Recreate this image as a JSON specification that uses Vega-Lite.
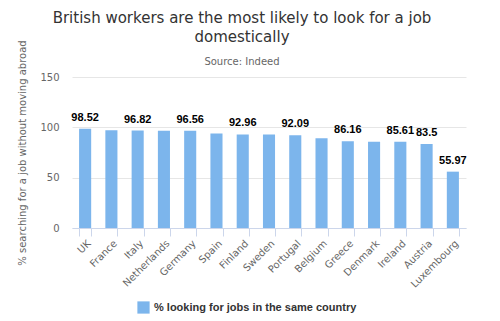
{
  "$schema": "https://vega.github.io/schema/vega-lite/v6.json",
  "autosize": "none",
  "width": 394,
  "height": 151,
  "padding": {"left": 72, "top": 77, "right": 34, "bottom": 93},
  "background": "white",
  "config": {
    "font": "DejaVu Sans",
    "view": {"stroke": null}
  },
  "title": {
    "text": ["British workers are the most likely to look for a job", "domestically"],
    "subtitle": "Source: Indeed",
    "anchor": "middle",
    "frame": "group",
    "dx": -27,
    "dy": 39,
    "fontSize": 15,
    "fontWeight": "normal",
    "color": "#333333",
    "lineHeight": 19,
    "subtitleFontSize": 10,
    "subtitleColor": "#666666",
    "subtitlePadding": 12,
    "offset": 12
  },
  "data": {
    "values": [
      {"country": "UK", "value": 98.52},
      {"country": "France", "value": 97.1},
      {"country": "Italy", "value": 96.82},
      {"country": "Netherlands", "value": 96.7},
      {"country": "Germany", "value": 96.56},
      {"country": "Spain", "value": 93.8},
      {"country": "Finland", "value": 92.96},
      {"country": "Sweden", "value": 92.9},
      {"country": "Portugal", "value": 92.09},
      {"country": "Belgium", "value": 89.1},
      {"country": "Greece", "value": 86.16},
      {"country": "Denmark", "value": 85.6},
      {"country": "Ireland", "value": 85.61},
      {"country": "Austria", "value": 83.5},
      {"country": "Luxembourg", "value": 55.97}
    ]
  },
  "encoding": {
    "x": {
      "field": "country",
      "type": "nominal",
      "sort": null,
      "scale": {"paddingInner": 0.54, "paddingOuter": 0.27},
      "axis": {
        "title": null,
        "labelAngle": -45,
        "labelAlign": "right",
        "labelBaseline": "top",
        "labelFontSize": 10,
        "labelColor": "#666666",
        "labelPadding": 2,
        "domainColor": "#ccd6eb",
        "tickColor": "#ccd6eb",
        "tickSize": 8,
        "tickBand": "extent"
      }
    },
    "y": {
      "field": "value",
      "type": "quantitative",
      "scale": {"domain": [0, 150]},
      "axis": {
        "title": "% searching for a job without moving abroad",
        "titleFontSize": 10,
        "titleFontWeight": "normal",
        "titleColor": "#666666",
        "titlePadding": 12,
        "values": [0, 50, 100, 150],
        "labelFontSize": 10,
        "labelColor": "#666666",
        "labelPadding": 13,
        "ticks": false,
        "domain": false,
        "gridColor": "#e6e6e6"
      }
    }
  },
  "layer": [
    {
      "mark": {"type": "bar", "color": "#7cb5ec"},
      "encoding": {
        "color": {
          "datum": "% looking for jobs in the same country",
          "type": "nominal",
          "scale": {"range": ["#7cb5ec"]},
          "legend": {
            "title": null,
            "orient": "none",
            "legendX": 65,
            "legendY": 224,
            "symbolType": "square",
            "symbolSize": 150,
            "symbolStrokeWidth": 0,
            "labelFont": "Liberation Sans",
            "labelFontSize": 11,
            "labelFontWeight": "bold",
            "labelColor": "#333333",
            "labelLimit": 0
          }
        }
      }
    },
    {
      "transform": [
        {"filter": {"field": "country", "oneOf": ["UK", "Italy", "Germany", "Finland", "Portugal", "Greece", "Ireland", "Austria", "Luxembourg"]}}
      ],
      "mark": {"type": "text", "baseline": "bottom", "dy": -6, "font": "Liberation Sans", "fontSize": 11, "fontWeight": "bold", "color": "#000000"},
      "encoding": {
        "text": {"field": "value", "type": "quantitative"}
      }
    }
  ]
}
